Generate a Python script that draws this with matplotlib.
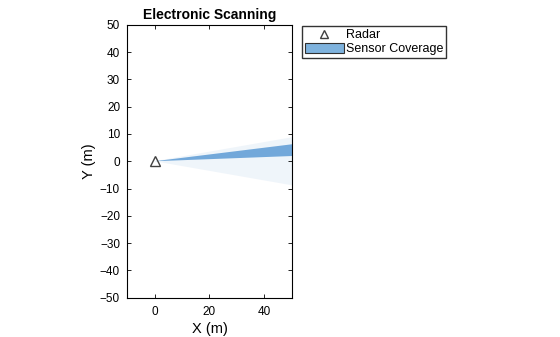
import numpy as np
import matplotlib.pyplot as plt
from matplotlib.patches import Polygon, Patch
from matplotlib.lines import Line2D

plt.rcParams['font.family'] = ['Liberation Sans', 'DejaVu Sans']

# radar position and coverage (degrees, metres)
radar_xy = [0, 0]
fov = [-10, 10]         # sensor field of view
beam = [2.2, 7.1]       # current electronic beam
max_range = 60

xlim = [-10, 50]
ylim = [-50, 50]
xticks = [0, 20, 40]
yticks = list(range(-50, 51, 10))


def wedge(az, r, n=30):
    a = np.deg2rad(np.linspace(az[0], az[1], n))
    xs = np.concatenate([[radar_xy[0]], radar_xy[0] + r * np.cos(a)])
    ys = np.concatenate([[radar_xy[1]], radar_xy[1] + r * np.sin(a)])
    return np.column_stack([xs, ys])


fig = plt.figure(figsize=(5.6, 3.37), dpi=100)
ax = fig.add_axes([0.2268, 0.117, 0.2946, 0.809])

ax.add_patch(Polygon(wedge(fov, max_range), closed=True, facecolor='#eef4fa',
                     edgecolor='none', alpha=0.9))
ax.add_patch(Polygon(wedge(beam, max_range), closed=True, facecolor='#72a8da',
                     edgecolor='none'))
ax.plot(radar_xy[0], radar_xy[1], marker='^', markersize=7, markerfacecolor='none',
        markeredgecolor='#404040', markeredgewidth=1.0, linestyle='none')

ax.set_xlim(xlim)
ax.set_ylim(ylim)
ax.set_xticks(xticks)
ax.set_yticks(yticks)
ax.tick_params(direction='in', top=True, right=True, labelsize=8.5, length=3, width=0.6)
ax.tick_params(axis='x', pad=6)
ax.tick_params(axis='y', pad=5)
for s in ax.spines.values():
    s.set_linewidth(0.8)
ax.set_xlabel('X (m)', fontsize=10.5, labelpad=3)
ax.set_ylabel('Y (m)', fontsize=10.5, labelpad=3)
ax.set_title('Electronic Scanning', fontsize=10, fontweight='bold', pad=4)

handles = [
    Line2D([], [], marker='^', markersize=6, markerfacecolor='none',
           markeredgecolor='#404040', linestyle='none', label='Radar'),
    Patch(facecolor='#7eb2dd', edgecolor='#303030', linewidth=0.8, label='Sensor Coverage'),
]
fig.legend(handles=handles, loc='upper left', bbox_to_anchor=(0.539, 0.923),
           fontsize=9, frameon=True, fancybox=False, edgecolor='black',
           borderpad=0.25, labelspacing=0.1, handlelength=3.1, handleheight=0.85,
           handletextpad=0.15, borderaxespad=0)

fig.savefig('out.png', dpi=100)
